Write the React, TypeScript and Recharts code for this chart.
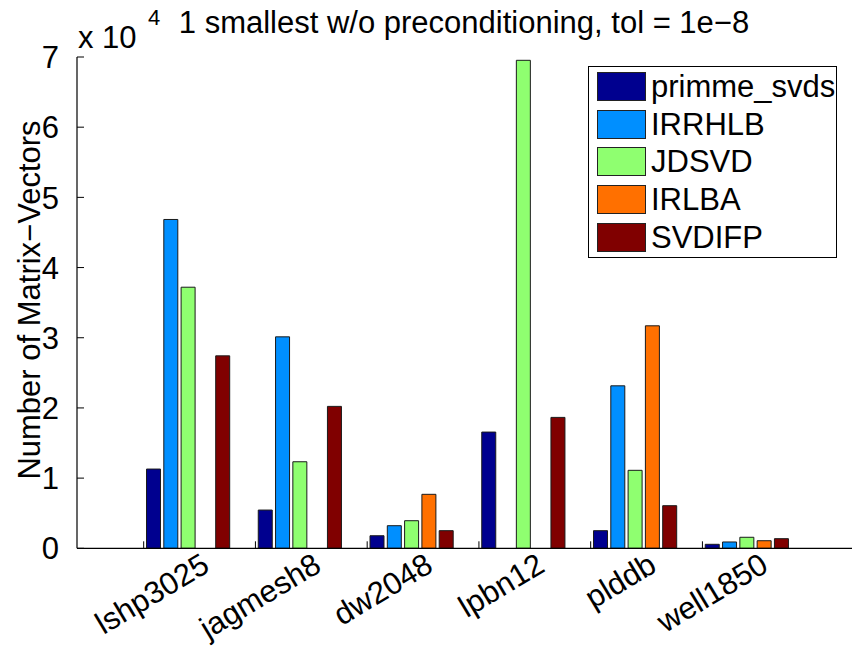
import { BarChart, Bar, XAxis, YAxis, Legend } from "recharts";

// matrices on the x axis
const categories = ["lshp3025", "jagmesh8", "dw2048", "lpbn12", "plddb", "well1850"];

// number of matrix-vector products per solver (null = solver did not converge)
const primmeSvds = [11290, 5450, 1790, 16560, 2510, 570];
const irrhlb = [46850, 30130, 3220, null, 23150, 900];
const jdsvd = [37200, 12330, 3930, 69530, 11110, 1570];
const irlba = [null, null, 7690, null, 31700, 1080];
const svdifp = [27420, 20220, 2510, 18650, 6070, 1370];

const seriesNames = ["primme_svds", "IRRHLB", "JDSVD", "IRLBA", "SVDIFP"];
const seriesColors = ["#00008f", "#008fff", "#8fff70", "#ff7000", "#800000"];
const seriesValues = [primmeSvds, irrhlb, jdsvd, irlba, svdifp];

const yTicks = [0, 10000, 20000, 30000, 40000, 50000, 60000, 70000];

const rows = categories.map((name, i) => {
  const row: Record<string, string | number | null> = { name };
  seriesNames.forEach((s, k) => {
    row[s] = seriesValues[k][i];
  });
  return row;
});

const FONT = '"Liberation Sans", Arial, Helvetica, sans-serif';

function BottomTick(props: any) {
  const { x, y, payload } = props;
  const tx = x - 0.8 * (payload.offset ?? 0);
  const lx = x + 23;
  const ly = y + 22;
  return (
    <g>
      <line x1={tx} y1={y} x2={tx} y2={y - 7} stroke="#000" strokeWidth={1} />
      <text
        x={lx}
        y={ly}
        textAnchor="end"
        transform={`rotate(-31, ${lx}, ${ly})`}
        fontSize={31}
        fontFamily={FONT}
        fill="#000"
      >
        {payload.value}
      </text>
    </g>
  );
}

function TopTick(props: any) {
  const { x, y, payload } = props;
  const tx = x - 0.8 * (payload.offset ?? 0);
  return <line x1={tx} y1={y} x2={tx} y2={y + 7} stroke="#000" strokeWidth={1} />;
}

function LeftTick(props: any) {
  const { x, y, payload } = props;
  return (
    <g>
      <line x1={x} y1={y} x2={x + 7} y2={y} stroke="#000" strokeWidth={1} />
      <text
        x={x - 18}
        y={y}
        dy="0.36em"
        textAnchor="end"
        fontSize={31}
        fontFamily={FONT}
        fill="#000"
      >
        {payload.value / 10000}
      </text>
    </g>
  );
}

function LegendBox({ payload }: any) {
  // keep the entries in plotting order
  const items = [...(payload || [])].sort(
    (a: any, b: any) => seriesNames.indexOf(a.value) - seriesNames.indexOf(b.value)
  );
  return (
    <div
      style={{
        border: "1.5px solid #000",
        background: "#fff",
        width: 249,
        boxSizing: "border-box",
        padding: "0.5px 0 1px 8px",
        fontFamily: FONT,
        color: "#000",
      }}
    >
      {items.map((entry: any) => (
        <div key={entry.value} style={{ display: "flex", alignItems: "center", height: 37.7 }}>
          <span
            style={{
              width: 49,
              height: 29,
              background: entry.color,
              border: "1px solid #222",
              boxSizing: "border-box",
              flex: "none",
            }}
          />
          <span style={{ fontSize: 31, marginLeft: 5, lineHeight: 1 }}>{entry.value}</span>
        </div>
      ))}
    </div>
  );
}

export default function App() {
  return (
    <div
      style={{
        position: "fixed",
        left: 0,
        top: 0,
        width: 852,
        height: 648,
        overflow: "hidden",
        background: "#fff",
      }}
    >
      <BarChart
        width={900}
        height={648}
        data={rows}
        margin={{ top: 57, right: 41.5, bottom: 0, left: 0 }}
        barSize={14}
        barGap={3.3}
      >
        <XAxis
          dataKey="name"
          height={99.7}
          interval={0}
          padding={{ left: 55.5, right: 55.5 }}
          axisLine={{ stroke: "#000", strokeWidth: 1.2 }}
          tickLine={false}
          tickSize={0}
          tickMargin={0}
          tick={<BottomTick />}
        />
        <XAxis
          xAxisId="top"
          orientation="top"
          dataKey="name"
          height={0}
          interval={0}
          padding={{ left: 55.5, right: 55.5 }}
          axisLine={{ stroke: "#000", strokeWidth: 1.2 }}
          tickLine={false}
          tickSize={0}
          tickMargin={0}
          tick={<TopTick />}
        />
        <YAxis
          width={77}
          domain={[0, 70000]}
          ticks={yTicks}
          interval={0}
          axisLine={{ stroke: "#000", strokeWidth: 1.2 }}
          tickLine={false}
          tickSize={0}
          tickMargin={0}
          tick={<LeftTick />}
        />
        <Legend
          layout="vertical"
          align="center"
          verticalAlign="middle"
          wrapperStyle={{ left: 588, top: 66, width: 249 }}
          content={<LegendBox />}
        />
        {seriesNames.map((s, k) => (
          <Bar
            key={s}
            dataKey={s}
            name={s}
            fill={seriesColors[k]}
            stroke="#1a1a1a"
            strokeWidth={1}
            isAnimationActive={false}
          />
        ))}
      </BarChart>
      <svg
        width={852}
        height={648}
        style={{ position: "absolute", left: 0, top: 0, pointerEvents: "none" }}
      >
        <text x={464} y={33} textAnchor="middle" fontSize={31} fontFamily={FONT} fill="#000">
          1 smallest w/o preconditioning, tol = 1e−8
        </text>
        <text x={78} y={48} fontSize={31} fontFamily={FONT} fill="#000">
          x 10
        </text>
        <text x={148} y={25} fontSize={22} fontFamily={FONT} fill="#000">
          4
        </text>
        <text
          x={40}
          y={300}
          textAnchor="middle"
          transform="rotate(-90, 40, 300)"
          fontSize={31}
          fontFamily={FONT}
          fill="#000"
        >
          Number of Matrix−Vectors
        </text>
      </svg>
    </div>
  );
}
